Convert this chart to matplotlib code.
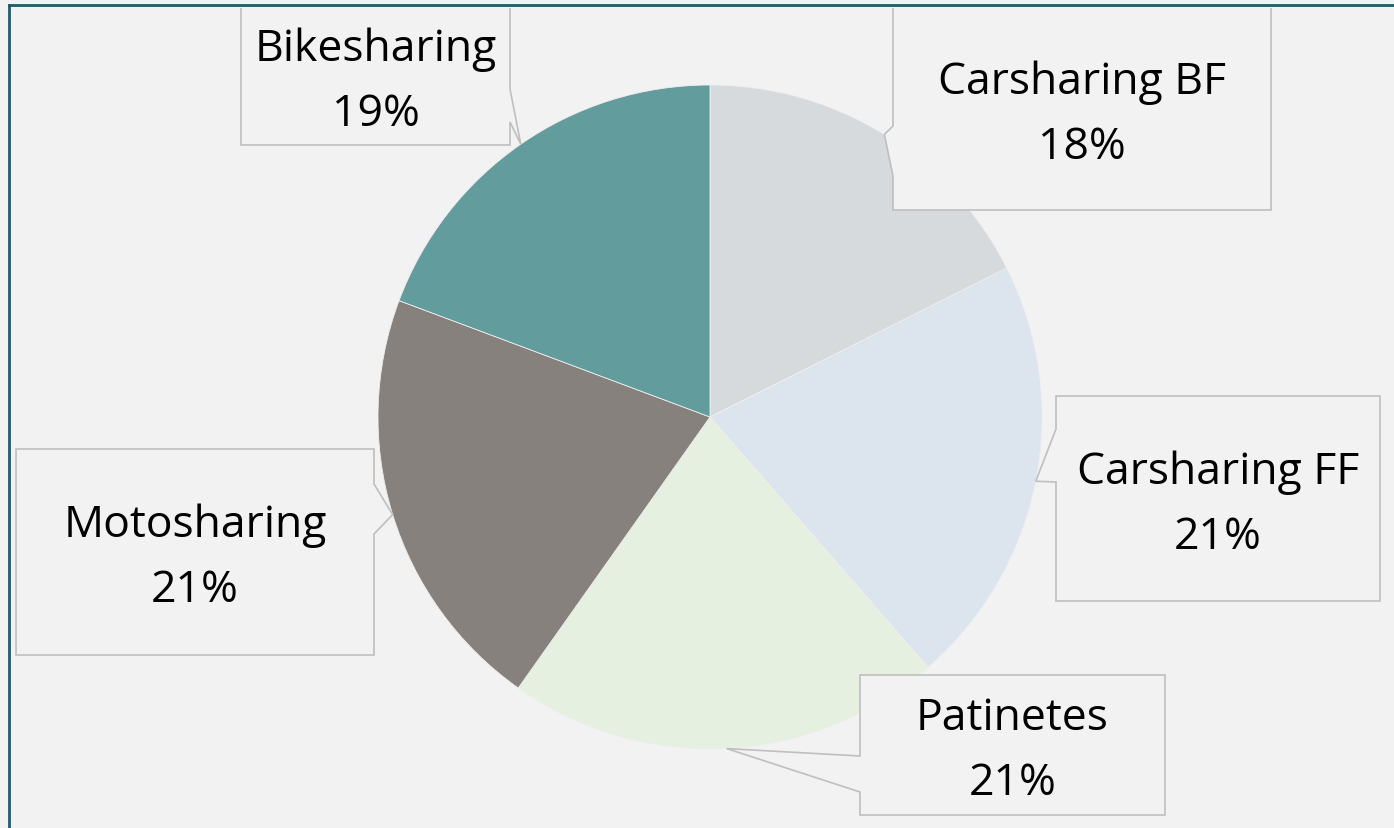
import numpy as np
import matplotlib
matplotlib.use('Agg')
import matplotlib.pyplot as plt
from matplotlib.patches import Polygon, Rectangle
from matplotlib.lines import Line2D

# ---- data ----
categories = ['Carsharing BF', 'Carsharing FF', 'Patinetes', 'Motosharing', 'Bikesharing']
shares = [17.6, 21.0, 21.2, 20.9, 19.3]
colors = ['#D6DADD', '#DCE4EE', '#E6F0E1', '#86817D', '#629C9D']

# ---- layout (pixel coords, y downward) ----
W, H = 1394, 829
# x0, y0, x1, y1, pointer side, pointer base a, pointer base b
boxes = {
    'Carsharing BF': (893, -20, 1271, 211, 'left', 127, 177),
    'Carsharing FF': (1056, 397, 1380, 602, 'left', 430, 483),
    'Patinetes':     (860, 676, 1165, 816, 'left', 757, 793),
    'Motosharing':   (16, 450, 374, 656, 'right', 485, 535),
    'Bikesharing':   (241, -20, 510, 146, 'right', 90, 123),
}
text_centers = {
    'Carsharing BF': 110, 'Carsharing FF': 500, 'Patinetes': 746,
    'Motosharing': 553, 'Bikesharing': 77,
}

plt.rcParams['font.family'] = ['Open Sans', 'DejaVu Sans']
BG = '#F2F2F2'
fig = plt.figure(figsize=(W / 100, H / 100), dpi=100, facecolor=BG)
ax = fig.add_axes([0, 0, 1, 1])
ax.set_facecolor(BG)

cx, cy, R = 710, H - 418, 332
wedges, _ = ax.pie(shares, colors=colors, startangle=90, counterclock=False,
                   center=(cx, cy), radius=R, frame=True,
                   wedgeprops=dict(edgecolor='#EEEEEE', linewidth=0.6))
ax.set_xlim(0, W)
ax.set_ylim(0, H)
ax.set_aspect('equal')
ax.axis('off')

clip = Rectangle((9, 0), W, H - 8.5, transform=ax.transData, facecolor='none', edgecolor='none')
ax.add_patch(clip)

def Y(y):
    return H - y

for w, name, val in zip(wedges, categories, shares):
    x0, y0, x1, y1, side, ba, bb = boxes[name]
    th = np.deg2rad((w.theta1 + w.theta2) / 2)
    tip = (cx + R * np.cos(th), cy + R * np.sin(th))
    if side == 'left':
        verts = [(x0, Y(y0)), (x1, Y(y0)), (x1, Y(y1)), (x0, Y(y1)),
                 (x0, Y(bb)), tip, (x0, Y(ba))]
    else:
        verts = [(x0, Y(y0)), (x1, Y(y0)), (x1, Y(ba)), tip,
                 (x1, Y(bb)), (x1, Y(y1)), (x0, Y(y1))]
    poly = Polygon(verts, closed=True, facecolor=BG, edgecolor='#BFBFBF',
                   linewidth=1.2, zorder=3, joinstyle='miter')
    ax.add_patch(poly)
    poly.set_clip_path(clip)
    tx = (x0 + x1) / 2
    tc = text_centers[name]
    ax.text(tx, Y(tc - 16), name, ha='center', va='baseline', fontsize=32,
            color='black', zorder=4)
    ax.text(tx, Y(tc + 49), f"{round(val)}%", ha='center', va='baseline',
            fontsize=32, color='black', zorder=4)

# outer chart border (top and left visible)
fig.add_artist(Line2D([8.5 / W, 8.5 / W], [0, 1 - 6 / H], color='#215A69', linewidth=2,
                      transform=fig.transFigure))
fig.add_artist(Line2D([8.5 / W, 1], [1 - 6 / H, 1 - 6 / H], color='#215A69', linewidth=2,
                      transform=fig.transFigure))

fig.savefig('out.png', dpi=100, facecolor=BG)
